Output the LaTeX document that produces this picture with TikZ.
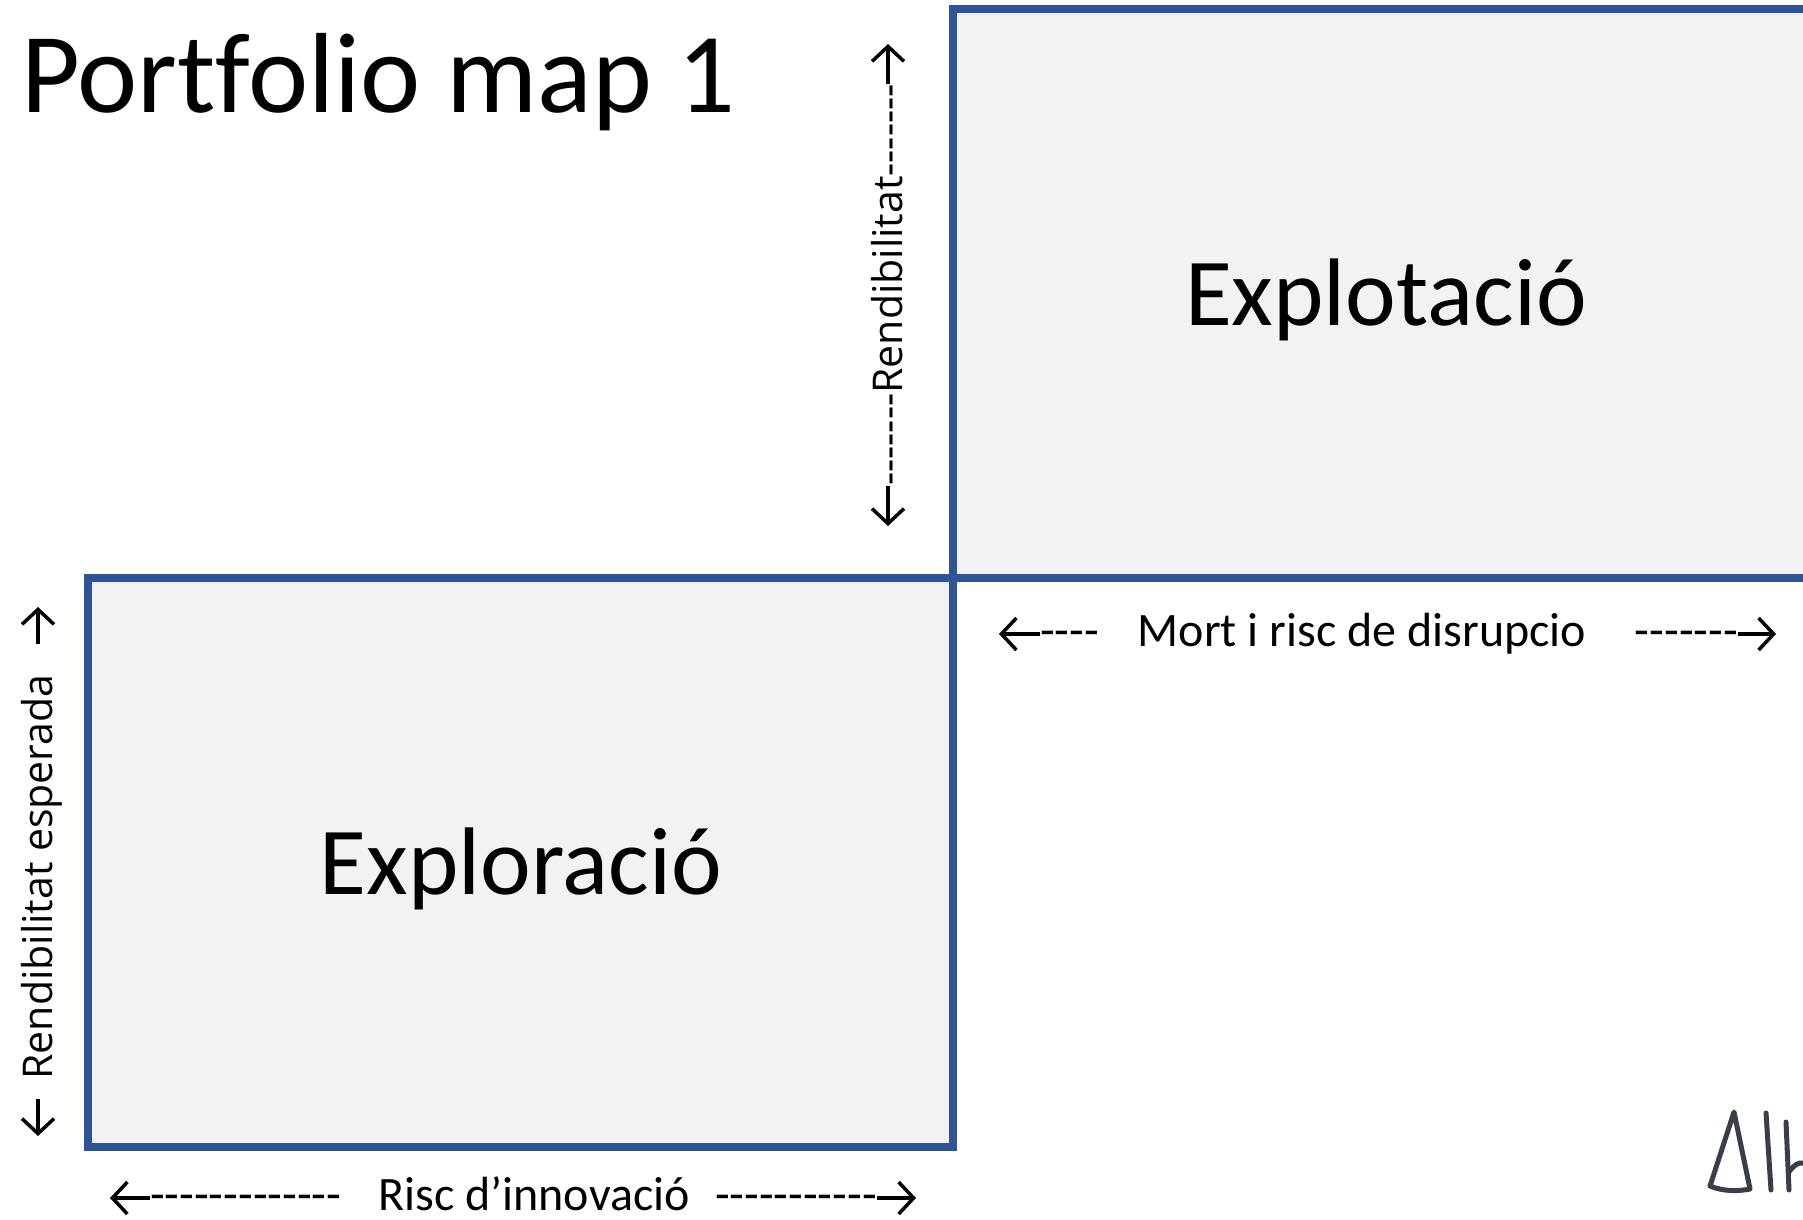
\documentclass[tikz,border=0pt]{standalone}
\usepackage{fontspec}
\usetikzlibrary{arrows.meta}
\setmainfont{Carlito}[Ligatures={TeXOff,CommonOff}]
\newfontfamily\lblfont{Open Sans}[Ligatures={TeXOff,CommonOff}]
\definecolor{boxblue}{RGB}{47,84,150}
\definecolor{boxfill}{RGB}{242,242,242}
\definecolor{inkgray}{RGB}{58,62,75}
\tikzset{
  quad/.style={draw=boxblue, fill=boxfill, line width=8pt},
  titletext/.style={inner sep=0pt, anchor=base west, font=\fontsize{114}{120}\selectfont},
  bigtext/.style={inner sep=0pt, anchor=base, font=\fontsize{96}{100}\selectfont},
  axistext/.style={inner sep=0pt, font=\fontsize{48}{52}\selectfont},
  vlabel/.style={inner sep=0pt, rotate=90, anchor=base, font=\lblfont\fontsize{41}{45}\selectfont},
  axarr/.style={draw=black, line width=3.5pt, -{Straight Barb[length=15pt, width=32pt, line width=3.5pt]}},
  sig/.style={draw=inkgray, line width=5pt, line cap=round, line join=round}
}
\begin{document}
\begin{tikzpicture}[x=1pt,y=-1pt]
\clip (0,0) rectangle (1803,1219);
\fill[white] (0,0) rectangle (1803,1219);
% quadrants
\draw[quad] (953,9) rectangle (1840,578);
\draw[quad] (88,578) rectangle (953,1147);
% title
\node[titletext] (title) at (21,112) {Portfolio map 1};
% quadrant labels
\node[bigtext] (explot) at (1386,325) {Explotació};
\node[bigtext] (explor) at (521,894) {Exploració};
% horizontal axis: Mort i risc de disrupcio
\node[axistext, anchor=base west] (mortL) at (1040,646) {----};
\node[axistext, anchor=base] (mort) at (1362,646) {Mort i risc de disrupcio};
\node[axistext, anchor=base east] (mortR) at (1738,646) {-------};
\coordinate (mortLtip) at (999,634);
\coordinate (mortRtip) at (1776,634);
\draw[axarr] (mortL.west |- mortLtip) -- (mortLtip);
\draw[axarr] (mortR.east |- mortRtip) -- (mortRtip);
% horizontal axis: Risc d'innovacio
\node[axistext, anchor=base west] (riscL) at (150,1210) {-------------};
\node[axistext, anchor=base] (risc) at (534,1210) {Risc d’innovació};
\node[axistext, anchor=base east] (riscR) at (877,1210) {-----------};
\coordinate (riscLtip) at (110,1198);
\coordinate (riscRtip) at (916,1198);
\draw[axarr] (riscL.west |- riscLtip) -- (riscLtip);
\draw[axarr] (riscR.east |- riscRtip) -- (riscRtip);
% vertical axis: Rendibilitat (top)
\node[vlabel] (rendtop) at (902,285) {-------Rendibilitat-------};
\coordinate (rtUp) at (888,44);
\coordinate (rtDown) at (888,526);
\draw[axarr] (rtUp |- rendtop.east) -- (rtUp);
\draw[axarr] (rtDown |- rendtop.west) -- (rtDown);
% vertical axis: Rendibilitat esperada (left)
\node[vlabel] (rendleft) at (52,877) {Rendibilitat esperada};
\coordinate (rlUpS) at (38,644);
\coordinate (rlUp) at (38,607);
\coordinate (rlDownS) at (38,1099);
\coordinate (rlDown) at (38,1136);
\draw[axarr] (rlUpS) -- (rlUp);
\draw[axarr] (rlDownS) -- (rlDown);
% signature (partly cut off)
\draw[sig] (1734,1112) -- (1710,1186) .. controls (1724,1192) and (1740,1191) .. (1750,1189) -- cycle;
\draw[sig] (1766,1113) -- (1771,1190);
\draw[sig] (1786,1122) -- (1789,1190);
\draw[sig] (1789,1172) .. controls (1798,1158) and (1810,1160) .. (1812,1178);
\end{tikzpicture}
\end{document}
